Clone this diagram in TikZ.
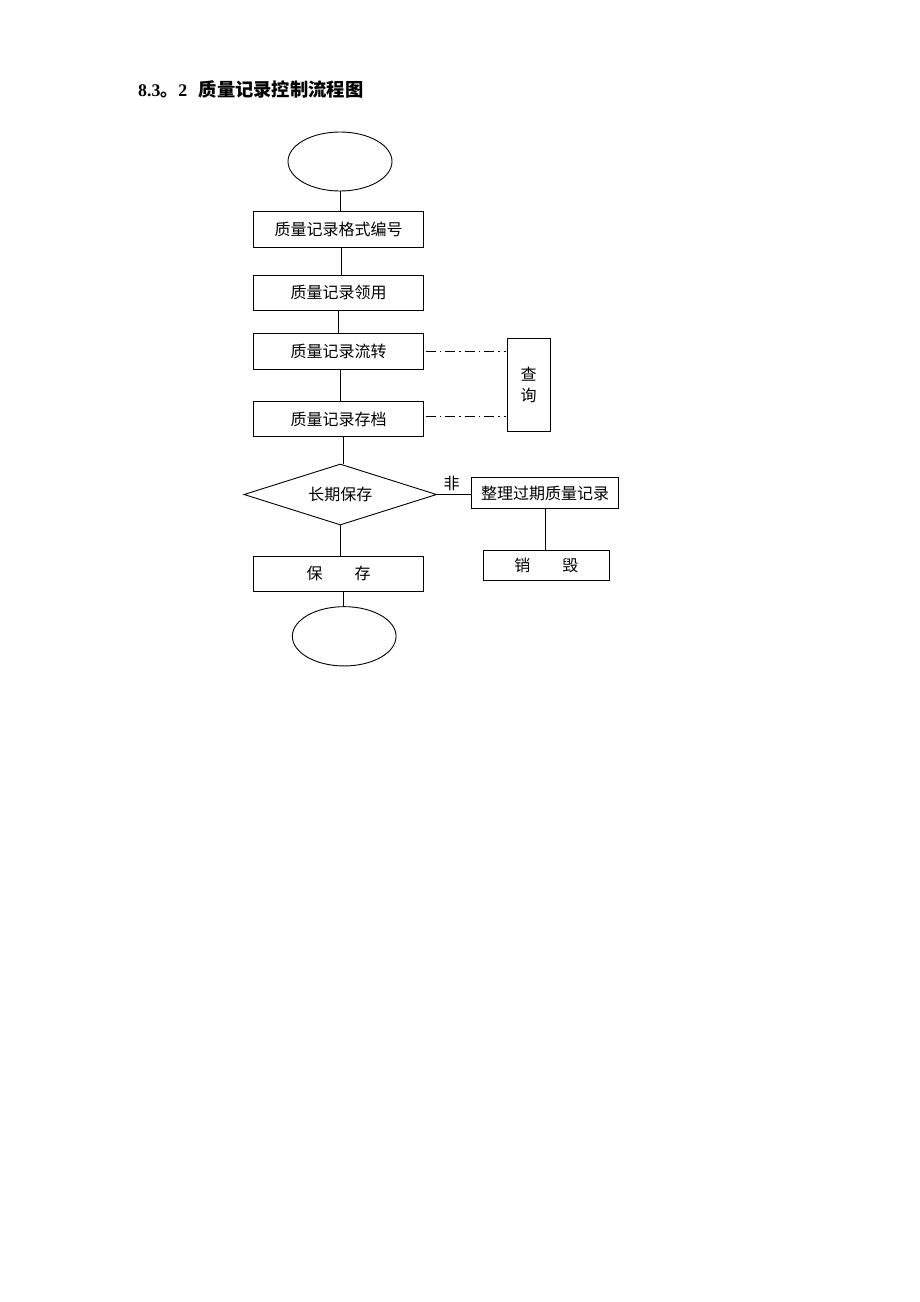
\documentclass[tikz,border=0pt]{standalone}
\usepackage{fontspec}
\setmainfont{Liberation Serif}
\newfontfamily\cjk{Noto Sans CJK SC}
\usetikzlibrary{shapes.geometric}
\tikzset{
  box/.style={draw, line width=0.9pt, rectangle, inner sep=0pt, font=\cjk\fontsize{16}{16}\selectfont},
  term/.style={draw, line width=0.9pt, ellipse, inner sep=0pt},
  dec/.style={draw, line width=0.9pt, diamond, aspect=3.16, inner sep=0pt, font=\cjk\fontsize{16}{16}\selectfont},
  conn/.style={line width=0.9pt},
  dd/.style={line width=0.9pt, dash pattern=on 10pt off 4pt on 1.5pt off 4pt},
  lbl/.style={inner sep=0pt, font=\cjk\fontsize{16}{16}\selectfont}
}
\begin{document}
\begin{tikzpicture}[x=1pt,y=-1pt]
\useasboundingbox (0,0) rectangle (920,1302);
\node[anchor=base west, inner sep=0pt] (title) at (138,96.5)
  {\fontsize{17.8}{18}\selectfont\bfseries 8.3{\cjk 。}2\hspace{0.65em}{\cjk\fontsize{18.3}{18}\selectfont 质量记录控制流程图}};
\node[term, minimum width=104pt, minimum height=59pt] (start) at (340,161.5) {};
\node[box, minimum width=170.4pt, minimum height=35.6pt] (b1) at (338.5,229.5) {质量记录格式编号};
\node[box, minimum width=170.4pt, minimum height=35.3pt] (b2) at (338.5,292.7) {质量记录领用};
\node[box, minimum width=170.4pt, minimum height=35.6pt] (b3) at (338.5,351.5) {质量记录流转};
\node[box, minimum width=170.4pt, minimum height=35pt] (b4) at (338.5,419.2) {质量记录存档};
\node[box, minimum width=43.3pt, minimum height=92.7pt, align=center, font=\cjk\fontsize{16}{21.5}\selectfont] (q) at (528.7,384.7) {查\\询};
\node[dec, minimum width=192.7pt, minimum height=61pt] (d) at (340.3,494.5) {长期保存};
\node[box, minimum width=146.6pt, minimum height=30.6pt] (r) at (545,493) {整理过期质量记录};
\node[box, minimum width=126pt, minimum height=30.7pt] (x) at (546.3,565.3) {销\hspace{2em}毁};
\node[box, minimum width=170.4pt, minimum height=35.7pt] (s) at (338.5,573.8) {保\hspace{2em}存};
\node[term, minimum width=103.7pt, minimum height=59.3pt] (end) at (344.2,636.3) {};
\node[lbl] (fei) at (451.7,483.3) {非};
\draw[conn] (start.south) -- (start.south |- b1.north);
\draw[conn] ([xshift=3pt]b1.south) -- ([xshift=3pt]b2.north);
\draw[conn] (b2.south) -- (b2.south |- b3.north);
\draw[conn] ([xshift=1.5pt]b3.south) -- ([xshift=1.5pt]b4.north);
\draw[conn] ([xshift=4.5pt]b4.south) -- ([xshift=4.5pt]b4.south |- d.north);
\draw[conn] (d.east) -- (r.west |- d.east);
\draw[conn] (r.south) -- (r.south |- x.north);
\draw[conn] (d.south) -- (d.south |- s.north);
\draw[conn] ([xshift=4.8pt]s.south) -- ([xshift=4.8pt]s.south |- end.north);
\draw[dd] ([xshift=1.5pt]b3.east) -- ([xshift=-1pt]q.west |- b3.east);
\draw[dd] ([xshift=1.5pt]b4.east |- 0,416.7) -- ([xshift=-1pt]q.west |- 0,416.7);
\end{tikzpicture}
\end{document}
